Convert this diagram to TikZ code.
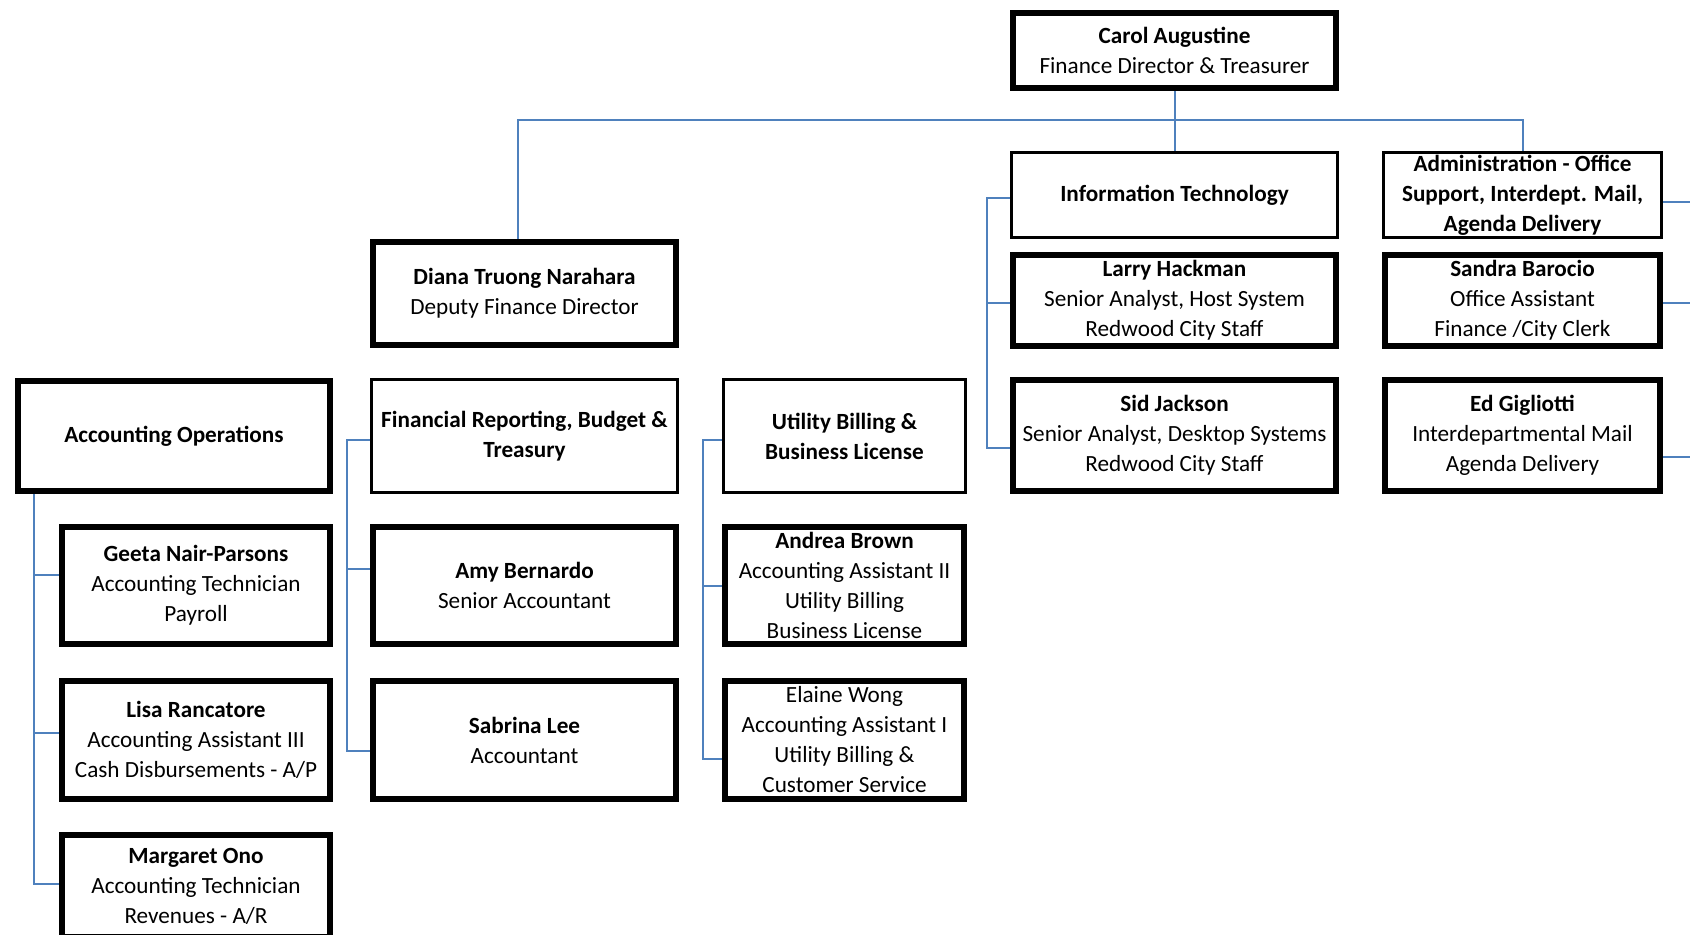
\documentclass[tikz,border=0pt]{standalone}
\usepackage{fontspec}
\setmainfont{Carlito}
\definecolor{linkblue}{RGB}{79,129,189}

\begin{document}
\begin{tikzpicture}[
    x=0.5pt, y=-0.5pt,
    every node/.style={font=\fontsize{11.6}{15}\selectfont, align=center, inner sep=0pt},
    boxthick/.style={rectangle, draw=black, line width=3pt, fill=white},
    boxthin/.style={rectangle, draw=black, line width=1.5pt, fill=white},
    link/.style={draw=linkblue, line width=1pt}
]

% Page frame
\clip (0,0) rectangle (1690,934);
\fill[white] (0,0) rectangle (1690,934);
\coordinate (rightedge) at (1690,0);

% Director
\node[boxthick, minimum width=161.5pt, minimum height=37.5pt] (carol) at (1174.5, 50.5) {\textbf{Carol Augustine}\\Finance Director \& Treasurer};

% Right side: IT and Administration
\node[boxthin, minimum width=163pt, minimum height=42.5pt] (it) at (1174.5, 195) {\textbf{Information Technology}};
\node[boxthin, minimum width=139pt, minimum height=42.5pt] (admin) at (1522.5, 195) {\textbf{Administration - Office}\\\textbf{Support, Interdept. Mail,}\\\textbf{Agenda Delivery}};
\node[boxthick, minimum width=161.5pt, minimum height=45.5pt] (larry) at (1174.5, 300.5) {\textbf{Larry Hackman}\\Senior Analyst, Host System\\Redwood City Staff};
\node[boxthick, minimum width=137.5pt, minimum height=45.5pt] (sandra) at (1522.5, 300.5) {\textbf{Sandra Barocio}\\Office Assistant\\Finance /City Clerk};
\node[boxthick, minimum width=161.5pt, minimum height=55.5pt] (sid) at (1174.5, 435.5) {\textbf{Sid Jackson}\\Senior Analyst, Desktop Systems\\Redwood City Staff};
\node[boxthick, minimum width=137.5pt, minimum height=55.5pt] (ed) at (1522.5, 435.5) {\textbf{Ed Gigliotti}\\Interdepartmental Mail\\Agenda Delivery};

% Deputy and her divisions
\node[boxthick, minimum width=151.5pt, minimum height=51.5pt] (diana) at (524.5, 293.5) {\textbf{Diana Truong Narahara}\\Deputy Finance Director};
\node[boxthick, minimum width=156pt, minimum height=55pt] (accops) at (174, 436) {\textbf{Accounting Operations}};
\node[boxthin, minimum width=153pt, minimum height=56.5pt] (fin) at (524.5, 436) {\textbf{Financial Reporting, Budget \&}\\\textbf{Treasury}};
\node[boxthin, minimum width=121pt, minimum height=56.5pt] (util) at (844.5, 436) {\textbf{Utility Billing \&}\\\textbf{Business License}};

% Staff rows
\node[boxthick, minimum width=134pt, minimum height=58.5pt] (geeta) at (196, 585.5) {\textbf{Geeta Nair-Parsons}\\Accounting Technician\\Payroll};
\node[boxthick, minimum width=151.5pt, minimum height=58.5pt] (amy) at (524.5, 585.5) {\textbf{Amy Bernardo}\\Senior Accountant};
\node[boxthick, minimum width=119.5pt, minimum height=58.5pt] (andrea) at (844.5, 585.5) {\textbf{Andrea Brown}\\Accounting Assistant II\\Utility Billing\\Business License};
\node[boxthick, minimum width=134pt, minimum height=59pt] (lisa) at (196, 740) {\textbf{Lisa Rancatore}\\Accounting Assistant III\\Cash Disbursements - A/P};
\node[boxthick, minimum width=151.5pt, minimum height=59pt] (sabrina) at (524.5, 740) {\textbf{Sabrina Lee}\\Accountant};
\node[boxthick, minimum width=119.5pt, minimum height=59pt] (elaine) at (844.5, 740) {Elaine Wong\\Accounting Assistant I\\Utility Billing \&\\Customer Service};
\node[boxthick, minimum width=134pt, minimum height=51pt] (margaret) at (196, 886) {\textbf{Margaret Ono}\\Accounting Technician\\Revenues - A/R};

% Top bus
\draw[link] (carol.south) -- ++(0,29) coordinate (bus);
\draw[link] (bus) -| ([xshift=-3.5pt]diana.north);
\draw[link] (bus) -| (admin.north);
\draw[link] (bus) -- (it.north);

% IT group
\draw[link] ([yshift=-1.5pt]it.west) -- ++(-23,0) coordinate (itspine) |- ([yshift=-6pt]sid.west);
\draw[link] (itspine) |- ([yshift=-1pt]larry.west);

% Administration stubs
\draw[link] ([yshift=-3.5pt]admin.east) -- ++(40,0);
\draw[link] ([yshift=-1pt]sandra.east) -- ++(40,0);
\draw[link] ([yshift=-10.5pt]ed.east) -- ++(40,0);

% Accounting Operations group
\coordinate (opsspine) at ([xshift=9.5pt]accops.south west);
\draw[link] (opsspine) |- ([yshift=1pt]margaret.west);
\draw[link] (opsspine) |- ([yshift=5.5pt]geeta.west);
\draw[link] (opsspine) |- ([yshift=3.75pt]lisa.west);

% Financial Reporting group
\draw[link] ([yshift=-2pt]fin.west) -- ++(-23,0) coordinate (finspine) |- ([yshift=-5.5pt]sabrina.west);
\draw[link] (finspine) |- ([yshift=8.5pt]amy.west);

% Utility Billing group
\draw[link] ([yshift=-2pt]util.west) -- ++(-19,0) coordinate (utilspine) |- ([yshift=-9.5pt]elaine.west);
\draw[link] (utilspine) |- (andrea.west);

\end{tikzpicture}
\end{document}
